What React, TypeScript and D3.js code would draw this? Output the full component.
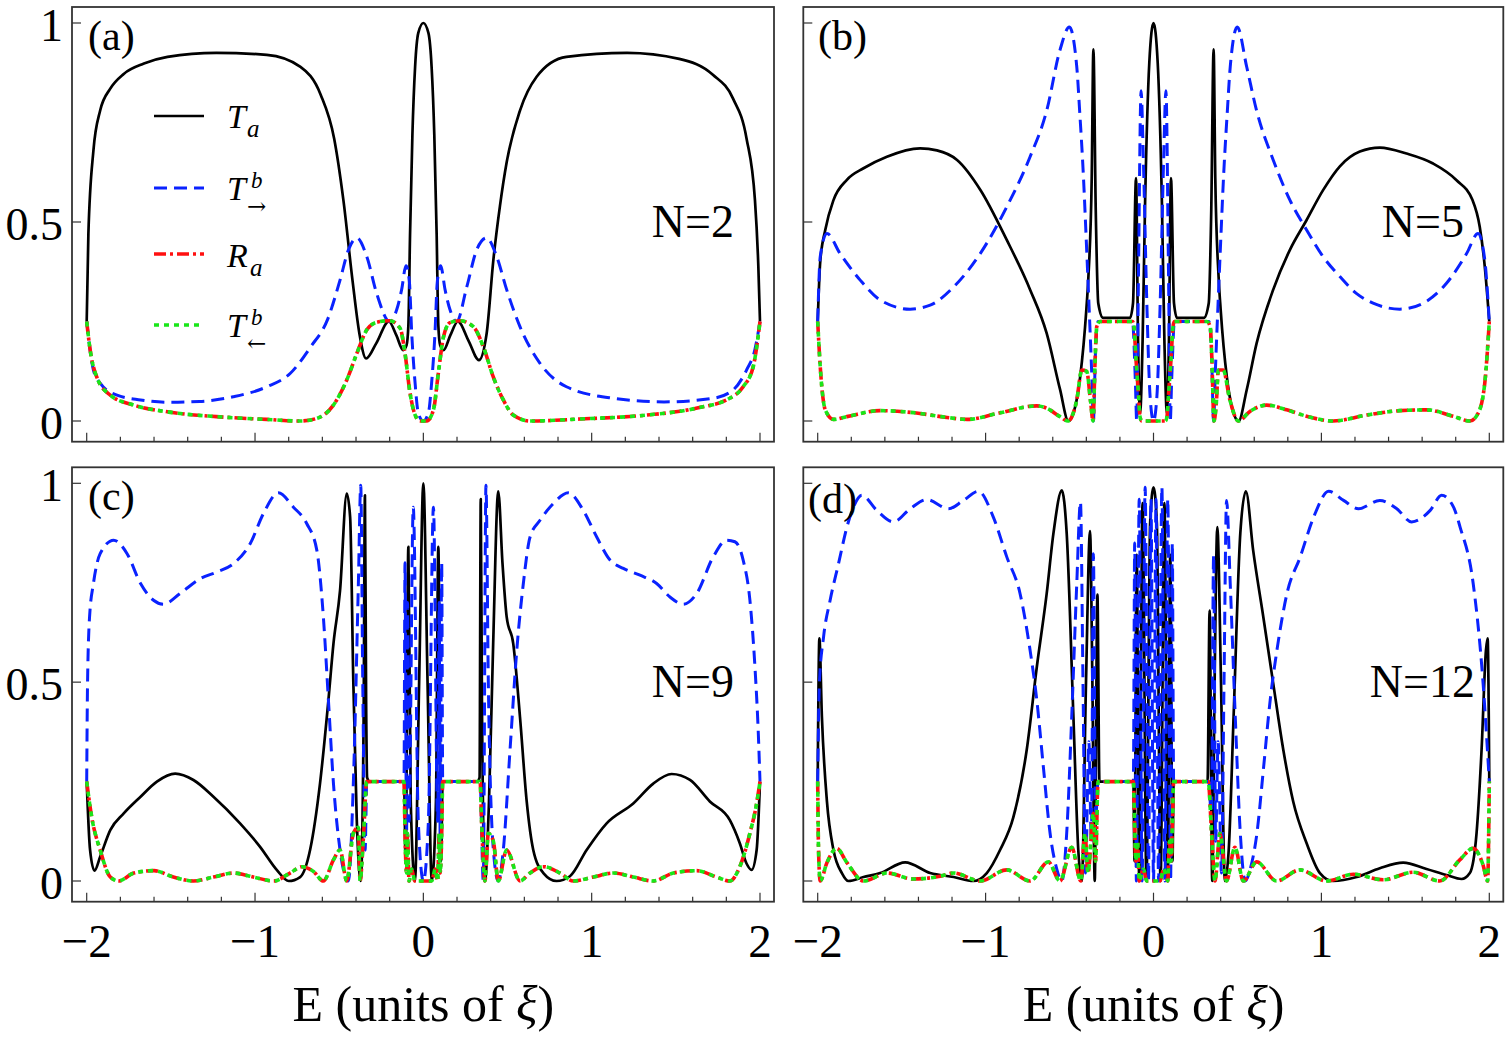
import React from "react";
import * as d3 from "d3";

type Pt = [number, number];

// (a) N=2  -- [E, value]
const taA: Pt[] = [[-2,0.25],[-1.99,0.47],[-1.96,0.68],[-1.92,0.78],[-1.86,0.835],[-1.78,0.872],[-1.66,0.898],[-1.52,0.915],[-1.23,0.925],[-0.93,0.92],[-0.73,0.89],[-0.61,0.82],[-0.53,0.71],[-0.475,0.555],[-0.42,0.35],[-0.38,0.22],[-0.34,0.157],[-0.28,0.195],[-0.205,0.25],[-0.16,0.215],[-0.12,0.178],[-0.1,0.19],[-0.089,0.24],[-0.079,0.47],[-0.065,0.72],[-0.049,0.89],[-0.03,0.975],[0,1.0],[0.03,0.975],[0.049,0.89],[0.065,0.72],[0.079,0.47],[0.089,0.24],[0.1,0.19],[0.12,0.178],[0.16,0.215],[0.205,0.25],[0.27,0.2],[0.33,0.153],[0.376,0.22],[0.416,0.405],[0.455,0.54],[0.495,0.65],[0.574,0.78],[0.673,0.865],[0.85,0.915],[1.21,0.925],[1.52,0.91],[1.72,0.87],[1.84,0.81],[1.92,0.71],[1.97,0.555],[1.99,0.39],[2,0.25]];
const tfA: Pt[] = [[-2,0.25],[-1.96,0.128],[-1.92,0.095],[-1.82,0.065],[-1.68,0.053],[-1.52,0.047],[-1.33,0.049],[-1.13,0.061],[-0.93,0.086],[-0.79,0.12],[-0.67,0.186],[-0.57,0.254],[-0.495,0.354],[-0.445,0.43],[-0.395,0.46],[-0.336,0.413],[-0.277,0.32],[-0.2,0.25],[-0.158,0.28],[-0.129,0.33],[-0.103,0.39],[-0.083,0.35],[-0.069,0.22],[-0.049,0.095],[-0.03,0.02],[0,0],[0.03,0.02],[0.049,0.095],[0.069,0.22],[0.083,0.35],[0.103,0.39],[0.129,0.33],[0.158,0.28],[0.198,0.25],[0.258,0.337],[0.317,0.43],[0.376,0.46],[0.436,0.413],[0.495,0.33],[0.574,0.237],[0.693,0.145],[0.85,0.086],[1.13,0.057],[1.43,0.048],[1.72,0.057],[1.84,0.078],[1.92,0.128],[1.97,0.18],[2,0.25]];
const raA: Pt[] = [[-2,0.25],[-1.98,0.18],[-1.94,0.11],[-1.86,0.065],[-1.72,0.04],[-1.52,0.023],[-1.23,0.011],[-0.93,0.004],[-0.73,0.0],[-0.63,0.007],[-0.534,0.04],[-0.455,0.103],[-0.395,0.17],[-0.336,0.229],[-0.277,0.248],[-0.2,0.252],[-0.138,0.233],[-0.109,0.17],[-0.079,0.07],[-0.049,0.015],[-0.02,0.0],[0.02,0.0],[0.06,0.028],[0.089,0.12],[0.119,0.21],[0.158,0.247],[0.218,0.252],[0.297,0.237],[0.356,0.187],[0.416,0.11],[0.475,0.053],[0.534,0.015],[0.634,0.0],[0.93,0.005],[1.33,0.015],[1.62,0.032],[1.82,0.057],[1.9,0.086],[1.96,0.137],[2,0.25]];
const tbA: Pt[] = raA; // green dotted lies exactly on the red curve

// (b) N=5
const taB: Pt[] = [[-2,0.25],[-1.985,0.4],[-1.955,0.48],[-1.906,0.555],[-1.826,0.606],[-1.727,0.635],[-1.588,0.664],[-1.39,0.685],[-1.29,0.68],[-1.17,0.656],[-1.03,0.58],[-0.874,0.455],[-0.735,0.33],[-0.636,0.22],[-0.557,0.08],[-0.507,0.0],[-0.467,0.035],[-0.437,0.11],[-0.4,0.28],[-0.388,0.36],[-0.368,0.61],[-0.358,0.934],[-0.344,0.53],[-0.329,0.296],[-0.3,0.259],[-0.14,0.259],[-0.122,0.296],[-0.104,0.61],[-0.092,0.2],[-0.08,0.02],[-0.065,0.2],[-0.05,0.55],[-0.025,0.9],[0,1.0],[0.025,0.9],[0.05,0.55],[0.065,0.2],[0.08,0.02],[0.092,0.2],[0.104,0.61],[0.122,0.296],[0.14,0.259],[0.3,0.259],[0.329,0.296],[0.344,0.53],[0.358,0.934],[0.368,0.61],[0.388,0.36],[0.4,0.28],[0.437,0.11],[0.467,0.035],[0.507,0.0],[0.555,0.078],[0.614,0.195],[0.713,0.33],[0.8125,0.43],[0.912,0.505],[1.01,0.58],[1.11,0.64],[1.229,0.677],[1.348,0.687],[1.507,0.672],[1.665,0.647],[1.805,0.605],[1.9,0.555],[1.943,0.488],[1.973,0.388],[2,0.25]];
const tfB: Pt[] = [[-2,0.25],[-1.985,0.413],[-1.945,0.471],[-1.866,0.42],[-1.747,0.354],[-1.628,0.304],[-1.45,0.281],[-1.33,0.291],[-1.19,0.337],[-1.033,0.42],[-0.874,0.538],[-0.735,0.664],[-0.636,0.78],[-0.557,0.932],[-0.501,0.99],[-0.457,0.89],[-0.44,0.78],[-0.418,0.62],[-0.4,0.45],[-0.385,0.3],[-0.368,0.12],[-0.358,0.0],[-0.345,0.18],[-0.33,0.25],[-0.125,0.25],[-0.108,0.1],[-0.1,0.0],[-0.09,0.35],[-0.074,0.83],[-0.06,0.65],[-0.04,0.3],[-0.02,0.06],[0,0.0],[0.02,0.06],[0.04,0.3],[0.06,0.65],[0.074,0.83],[0.09,0.35],[0.1,0.0],[0.108,0.1],[0.125,0.25],[0.33,0.25],[0.345,0.18],[0.358,0.0],[0.368,0.12],[0.385,0.3],[0.4,0.45],[0.418,0.62],[0.44,0.78],[0.457,0.89],[0.499,0.99],[0.555,0.89],[0.614,0.78],[0.713,0.656],[0.8125,0.555],[0.912,0.48],[1.01,0.413],[1.11,0.363],[1.21,0.32],[1.308,0.296],[1.467,0.281],[1.606,0.296],[1.745,0.346],[1.864,0.42],[1.933,0.471],[1.973,0.405],[2,0.25]];
const raB: Pt[] = [[-2,0.25],[-1.985,0.137],[-1.955,0.028],[-1.906,0.004],[-1.826,0.011],[-1.63,0.026],[-1.43,0.021],[-1.23,0.009],[-1.11,0.004],[-0.93,0.019],[-0.695,0.038],[-0.636,0.032],[-0.557,0.011],[-0.51,0.0],[-0.457,0.053],[-0.427,0.128],[-0.398,0.125],[-0.375,0.05],[-0.36,0.0],[-0.348,0.15],[-0.338,0.237],[-0.318,0.25],[-0.125,0.25],[-0.117,0.24],[-0.104,0.153],[-0.09,0.07],[-0.08,0.01],[-0.07,0.0],[0.07,0.0],[0.08,0.01],[0.09,0.07],[0.104,0.153],[0.117,0.24],[0.125,0.25],[0.318,0.25],[0.338,0.237],[0.348,0.15],[0.36,0.0],[0.375,0.05],[0.386,0.128],[0.415,0.128],[0.455,0.053],[0.505,0.0],[0.574,0.024],[0.674,0.04],[0.793,0.028],[0.912,0.012],[1.07,0.0],[1.27,0.015],[1.467,0.026],[1.626,0.028],[1.785,0.012],[1.884,0.0],[1.933,0.019],[1.973,0.095],[2,0.25]];
const tbB: Pt[] = raB;

// (c) N=9
const taC: Pt[] = [[-2,0.25],[-1.98,0.078],[-1.954,0.026],[-1.92,0.061],[-1.86,0.128],[-1.78,0.17],[-1.68,0.212],[-1.583,0.25],[-1.474,0.27],[-1.366,0.254],[-1.247,0.212],[-1.089,0.145],[-0.97,0.086],[-0.871,0.028],[-0.8,0.0],[-0.732,0.01],[-0.673,0.078],[-0.614,0.245],[-0.564,0.455],[-0.534,0.597],[-0.495,0.73],[-0.455,0.974],[-0.435,0.915],[-0.416,0.5],[-0.396,0.16],[-0.372,0.0],[-0.355,0.4],[-0.347,0.97],[-0.34,0.45],[-0.334,0.26],[-0.32,0.25],[-0.115,0.25],[-0.105,0.05],[-0.089,0.84],[-0.075,0.2],[-0.05,0.0],[-0.025,0.5],[0,1.0],[0.025,0.5],[0.05,0.0],[0.075,0.2],[0.089,0.84],[0.105,0.05],[0.115,0.25],[0.32,0.25],[0.334,0.26],[0.341,0.96],[0.348,0.45],[0.366,0.0],[0.39,0.2],[0.415,0.6],[0.445,0.98],[0.47,0.8],[0.495,0.664],[0.534,0.597],[0.574,0.413],[0.614,0.2],[0.653,0.078],[0.713,0.02],[0.792,0.0],[0.871,0.012],[0.97,0.078],[1.089,0.145],[1.247,0.195],[1.366,0.245],[1.475,0.269],[1.584,0.254],[1.702,0.2],[1.821,0.153],[1.88,0.095],[1.92,0.044],[1.95,0.028],[1.98,0.078],[2,0.25]];
const tfC: Pt[] = [[-2,0.25],[-1.995,0.497],[-1.983,0.664],[-1.96,0.748],[-1.92,0.823],[-1.84,0.857],[-1.76,0.823],[-1.68,0.748],[-1.603,0.706],[-1.544,0.696],[-1.445,0.723],[-1.326,0.76],[-1.227,0.777],[-1.128,0.798],[-1.029,0.848],[-0.95,0.924],[-0.861,0.976],[-0.772,0.94],[-0.693,0.899],[-0.633,0.832],[-0.594,0.664],[-0.564,0.455],[-0.534,0.245],[-0.495,0.078],[-0.445,0.0],[-0.416,0.245],[-0.386,0.748],[-0.372,0.995],[-0.36,0.5],[-0.346,0.078],[-0.336,0.25],[-0.115,0.25],[-0.109,0.8],[-0.1,0.1],[-0.094,0.7],[-0.085,0.15],[-0.06,0.94],[-0.03,0.15],[0,0.0],[0.03,0.15],[0.06,0.94],[0.085,0.15],[0.094,0.7],[0.1,0.1],[0.109,0.8],[0.115,0.25],[0.337,0.25],[0.356,0.0],[0.372,0.995],[0.386,0.5],[0.416,0.078],[0.445,0.0],[0.475,0.078],[0.515,0.33],[0.555,0.58],[0.594,0.748],[0.634,0.865],[0.693,0.907],[0.772,0.949],[0.861,0.976],[0.95,0.932],[1.03,0.865],[1.109,0.807],[1.188,0.786],[1.287,0.769],[1.386,0.748],[1.465,0.714],[1.544,0.696],[1.624,0.723],[1.722,0.815],[1.802,0.857],[1.851,0.853],[1.9,0.807],[1.94,0.706],[1.97,0.538],[1.99,0.371],[2,0.25]];
const raC: Pt[] = [[-2,0.25],[-1.97,0.16],[-1.92,0.078],[-1.86,0.01],[-1.81,0.0],[-1.72,0.02],[-1.6,0.026],[-1.485,0.01],[-1.366,0.0],[-1.247,0.01],[-1.128,0.02],[-1.01,0.01],[-0.89,0.0],[-0.792,0.02],[-0.722,0.036],[-0.653,0.024],[-0.594,0.0],[-0.534,0.053],[-0.495,0.078],[-0.455,0.0],[-0.416,0.12],[-0.386,0.135],[-0.376,0.0],[-0.356,0.11],[-0.336,0.25],[-0.115,0.25],[-0.108,0.1],[-0.1,0.02],[-0.094,0.12],[-0.085,0.0],[-0.07,0.03],[-0.05,0.0],[0,0.0],[0.05,0.0],[0.07,0.03],[0.085,0.0],[0.094,0.12],[0.1,0.02],[0.108,0.1],[0.115,0.25],[0.337,0.25],[0.347,0.137],[0.366,0.0],[0.386,0.12],[0.416,0.1],[0.445,0.0],[0.495,0.078],[0.574,0.0],[0.634,0.02],[0.713,0.036],[0.812,0.02],[0.891,0.0],[1.01,0.01],[1.128,0.02],[1.247,0.01],[1.366,0.0],[1.485,0.02],[1.624,0.026],[1.742,0.01],[1.821,0.0],[1.88,0.036],[1.94,0.12],[1.98,0.195],[2,0.25]];
const tbC: Pt[] = raC;

// (d) N=12
const taD: Pt[] = [[-2,0.25],[-1.99,0.61],[-1.975,0.413],[-1.945,0.2],[-1.906,0.078],[-1.856,0.02],[-1.817,0.0],[-1.727,0.01],[-1.628,0.02],[-1.479,0.047],[-1.33,0.02],[-1.19,0.01],[-1.073,0.0],[-0.993,0.02],[-0.914,0.078],[-0.835,0.16],[-0.755,0.33],[-0.695,0.538],[-0.636,0.723],[-0.596,0.874],[-0.546,0.982],[-0.517,0.874],[-0.477,0.413],[-0.448,0.078],[-0.427,0.0],[-0.402,0.5],[-0.378,0.88],[-0.364,0.5],[-0.35,0.0],[-0.334,0.72],[-0.322,0.25],[-0.12,0.25],[-0.113,0.05],[-0.1,0.82],[-0.085,0.0],[-0.065,0.95],[-0.042,0.0],[-0.02,0.9],[0,0.99],[0.02,0.9],[0.042,0.0],[0.065,0.95],[0.085,0.0],[0.1,0.82],[0.113,0.05],[0.12,0.25],[0.322,0.25],[0.334,0.68],[0.35,0.0],[0.364,0.5],[0.38,0.89],[0.402,0.5],[0.425,0.0],[0.448,0.078],[0.477,0.413],[0.517,0.874],[0.55,0.98],[0.594,0.83],[0.654,0.664],[0.713,0.497],[0.773,0.33],[0.832,0.2],[0.912,0.095],[0.991,0.02],[1.07,0.0],[1.21,0.01],[1.348,0.032],[1.487,0.046],[1.626,0.03],[1.745,0.015],[1.835,0.005],[1.884,0.02],[1.924,0.12],[1.954,0.33],[1.98,0.58],[1.99,0.61],[2,0.25]];
const tfD: Pt[] = [[-2,0.25],[-1.99,0.497],[-1.965,0.614],[-1.926,0.706],[-1.876,0.798],[-1.826,0.89],[-1.787,0.94],[-1.737,0.97],[-1.648,0.932],[-1.549,0.903],[-1.449,0.936],[-1.35,0.959],[-1.221,0.936],[-1.132,0.957],[-1.043,0.98],[-0.954,0.915],[-0.874,0.815],[-0.795,0.723],[-0.735,0.58],[-0.695,0.455],[-0.656,0.287],[-0.616,0.12],[-0.576,0.03],[-0.546,0.0],[-0.517,0.12],[-0.487,0.413],[-0.457,0.748],[-0.435,0.953],[-0.42,0.5],[-0.405,0.02],[-0.385,0.35],[-0.37,0.1],[-0.358,0.823],[-0.345,0.15],[-0.33,0.25],[-0.12,0.25],[-0.112,0.85],[-0.102,0.0],[-0.085,0.96],[-0.068,0.0],[-0.05,0.99],[-0.03,0.0],[-0.015,0.96],[0,0.0],[0.015,0.96],[0.03,0.0],[0.05,0.99],[0.068,0.0],[0.085,0.96],[0.102,0.0],[0.112,0.85],[0.12,0.25],[0.33,0.25],[0.345,0.15],[0.358,0.82],[0.37,0.1],[0.385,0.35],[0.405,0.02],[0.42,0.5],[0.435,0.957],[0.457,0.748],[0.487,0.413],[0.517,0.12],[0.546,0.0],[0.576,0.03],[0.616,0.12],[0.656,0.287],[0.695,0.455],[0.735,0.58],[0.795,0.723],[0.874,0.815],[0.954,0.915],[1.043,0.98],[1.132,0.957],[1.221,0.936],[1.348,0.957],[1.449,0.936],[1.537,0.903],[1.648,0.932],[1.716,0.97],[1.787,0.94],[1.826,0.89],[1.904,0.748],[1.963,0.497],[2,0.25]];
const raD: Pt[] = [[-2,0.25],[-1.995,0.078],[-1.985,0.0],[-1.945,0.046],[-1.886,0.082],[-1.826,0.046],[-1.727,0.0],[-1.588,0.02],[-1.43,0.005],[-1.27,0.012],[-1.19,0.02],[-1.033,0.0],[-0.874,0.028],[-0.735,0.0],[-0.626,0.048],[-0.557,0.0],[-0.487,0.085],[-0.433,0.0],[-0.408,0.12],[-0.39,0.02],[-0.358,0.17],[-0.345,0.05],[-0.33,0.25],[-0.12,0.25],[-0.113,0.15],[-0.105,0.05],[-0.095,0.1],[-0.085,0.0],[-0.06,0.03],[-0.04,0.0],[0,0.0],[0.04,0.0],[0.06,0.03],[0.085,0.0],[0.095,0.1],[0.105,0.05],[0.113,0.15],[0.12,0.25],[0.326,0.25],[0.346,0.12],[0.366,0.0],[0.396,0.12],[0.435,0.0],[0.485,0.085],[0.535,0.0],[0.614,0.048],[0.733,0.0],[0.872,0.028],[1.031,0.0],[1.19,0.017],[1.368,0.003],[1.546,0.022],[1.705,0.0],[1.824,0.053],[1.904,0.082],[1.963,0.04],[1.99,0.0],[2,0.25]];
const tbD: Pt[] = raD;

const panelLetters = ["(a)", "(b)", "(c)", "(d)"];
const chainLabels = ["N=2", "N=5", "N=9", "N=12"];
const yTickValues = [0, 0.5, 1];
const yTickLabels = ["0", "0.5", "1"];
const xLabelValues = [-2, -1, 0, 1, 2];
const xLabelText = ["\u22122", "\u22121", "0", "1", "2"];
const xTickValues = d3.range(-20, 21, 2).map((v) => v / 10);

const FONT = "'Liberation Serif', 'Times New Roman', serif";
const FRAME = "#333";

const seriesStyle = [
  { stroke: "#000000", width: 2.7, dash: undefined as string | undefined },
  { stroke: "#0a22ff", width: 3, dash: "13,7" },
  { stroke: "#ff1010", width: 3.6, dash: "12,4,3,4" },
  { stroke: "#19e619", width: 3.6, dash: "5,5" },
];

const cols = [
  { x0: 72, x1: 774, r0: 86.7, r1: 760 },
  { x0: 803.3, x1: 1503.3, r0: 817.7, r1: 1489.3 },
];
const rows = [
  { y0: 7, y1: 441.7, zero: 421, one: 23 },
  { y0: 467.3, y1: 901.7, zero: 881, one: 483.3 },
];

const panels = [
  { col: 0, row: 0, data: [taA, tfA, raA, tbA], letter: [88, 50], n: [734, 237] },
  { col: 1, row: 0, data: [taB, tfB, raB, tbB], letter: [818, 50], n: [1464, 237] },
  { col: 0, row: 1, data: [taC, tfC, raC, tbC], letter: [88, 510], n: [734, 697] },
  { col: 1, row: 1, data: [taD, tfD, raD, tbD], letter: [808, 513], n: [1475, 697] },
];

const Legend = () => {
  const rowsY = [116, 188, 254, 325];
  const arrowFont = "'DejaVu Serif', 'DejaVu Sans', serif";
  return (
    <g fontFamily={FONT} fontStyle="italic">
      {rowsY.map((y, i) => (
        <line key={i} x1={154} x2={204} y1={y} y2={y}
          stroke={seriesStyle[i].stroke} strokeWidth={seriesStyle[i].width}
          strokeDasharray={seriesStyle[i].dash} />
      ))}
      <text x={227} y={128} fontSize={34}>T</text>
      <text x={247} y={137} fontSize={25}>a</text>
      <text x={227} y={200} fontSize={34}>T</text>
      <text x={251} y={188} fontSize={23}>b</text>
      <text x={247} y={214} fontSize={23} fontStyle="normal" fontFamily={arrowFont}>{"\u2192"}</text>
      <text x={227} y={267} fontSize={34}>R</text>
      <text x={250} y={276} fontSize={25}>a</text>
      <text x={227} y={337} fontSize={34}>T</text>
      <text x={251} y={325} fontSize={23}>b</text>
      <text x={247} y={351} fontSize={23} fontStyle="normal" fontFamily={arrowFont}>{"\u2190"}</text>
    </g>
  );
};

const Panel = ({ p, idx }: { p: (typeof panels)[number]; idx: number }) => {
  const c = cols[p.col];
  const r = rows[p.row];
  const x = d3.scaleLinear().domain([-2, 2]).range([c.r0, c.r1]);
  const y = d3.scaleLinear().domain([0, 1]).range([r.zero, r.one]);
  const line = d3
    .line<Pt>()
    .x((d) => x(d[0]))
    .y((d) => y(d[1]))
    .curve(d3.curveMonotoneX);
  const clipId = `clip-${idx}`;
  return (
    <g>
      <defs>
        <clipPath id={clipId}>
          <rect x={c.x0} y={r.y0} width={c.x1 - c.x0} height={r.y1 - r.y0} />
        </clipPath>
      </defs>
      <g clipPath={`url(#${clipId})`}>
        {p.data.map((d, i) => (
          <path key={i} d={line(d) || ""} fill="none"
            stroke={seriesStyle[i].stroke} strokeWidth={seriesStyle[i].width}
            strokeDasharray={seriesStyle[i].dash} strokeLinejoin="round" />
        ))}
      </g>
      <rect x={c.x0} y={r.y0} width={c.x1 - c.x0} height={r.y1 - r.y0}
        fill="none" stroke={FRAME} strokeWidth={1.8} />
      {xTickValues.map((t) => {
        const major = Math.abs(t - Math.round(t)) < 1e-6;
        return (
          <line key={t} x1={x(t)} x2={x(t)} y1={r.y1} y2={r.y1 - (major ? 9 : 5)}
            stroke={FRAME} strokeWidth={1.2} />
        );
      })}
      {yTickValues.map((t) => (
        <line key={t} x1={c.x0} x2={c.x0 + 9} y1={y(t)} y2={y(t)} stroke={FRAME} strokeWidth={1.2} />
      ))}
      {p.col === 0 &&
        yTickValues.map((t, i) => (
          <text key={t} x={63} y={y(t) + 18} textAnchor="end" fontFamily={FONT} fontSize={46}>
            {yTickLabels[i]}
          </text>
        ))}
      {p.row === 1 && (
        <g fontFamily={FONT}>
          {xLabelValues.map((t, i) => (
            <text key={t} x={x(t)} y={957} textAnchor="middle" fontSize={47}>{xLabelText[i]}</text>
          ))}
          <text x={x(0)} y={1021} textAnchor="middle" fontSize={50}>
            E (units of <tspan fontStyle="italic">{"\u03BE"}</tspan>)
          </text>
        </g>
      )}
      <text x={p.letter[0]} y={p.letter[1]} fontFamily={FONT} fontSize={42}>{panelLetters[idx]}</text>
      <text x={p.n[0]} y={p.n[1]} textAnchor="end" fontFamily={FONT} fontSize={46}>{chainLabels[idx]}</text>
      {idx === 0 && <Legend />}
    </g>
  );
};

export default function App() {
  return (
    <svg width={1508} height={1037} viewBox="0 0 1508 1037"
      style={{ position: "absolute", left: 0, top: 0, background: "#fff" }}>
      <rect width={1508} height={1037} fill="#fff" />
      {panels.map((p, i) => (
        <Panel key={i} p={p} idx={i} />
      ))}
    </svg>
  );
}
